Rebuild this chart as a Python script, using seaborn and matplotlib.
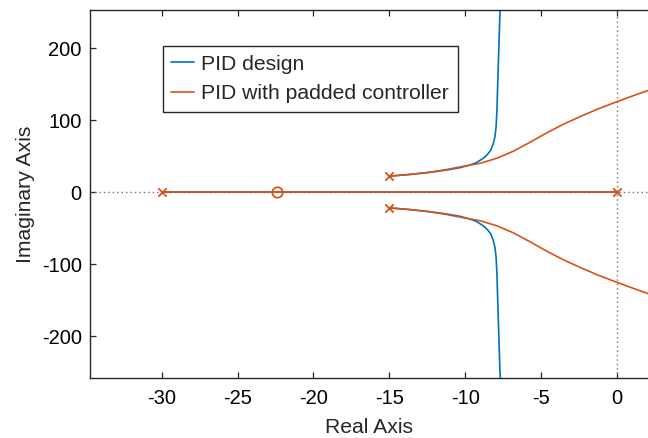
import numpy as np
import pandas as pd
import matplotlib
matplotlib.use("Agg")
import matplotlib.pyplot as plt
import seaborn as sns
from matplotlib.lines import Line2D

# Root-locus branches (real part, imaginary part)
pid_upper_re = [-15.0, -13.6, -12.5, -11.4, -10.4, -9.7, -9.25, -8.8, -8.55, -8.32, -8.15, -8.04, -7.97, -7.91, -7.86, -7.79, -7.73, -7.68]
pid_upper_im = [22.0, 24.5, 27.0, 30.0, 33.5, 37.5, 41.0, 47.0, 52.0, 58.0, 67.5, 77.0, 90.0, 114.0, 151.0, 197.0, 239.0, 262.0]
pid_lower_re = [-15.0, -13.6, -12.5, -11.4, -10.4, -9.7, -9.25, -8.8, -8.55, -8.32, -8.15, -8.04, -7.97, -7.91, -7.86, -7.79, -7.73, -7.68]
pid_lower_im = [-22.0, -24.5, -27.0, -30.0, -33.5, -37.5, -41.0, -47.0, -52.0, -58.0, -67.5, -77.0, -90.0, -114.0, -151.0, -197.0, -239.0, -262.0]

pad_upper_re = [-15.0, -13.6, -12.5, -11.4, -10.3, -9.0, -7.9, -6.8, -5.7, -4.6, -3.5, -2.4, -1.3, 0.0, 0.9, 2.1]
pad_upper_im = [22.0, 24.5, 27.0, 30.5, 35.0, 40.0, 47.0, 57.0, 69.5, 82.5, 94.5, 105.0, 115.0, 125.5, 132.5, 141.5]
pad_lower_re = [-15.0, -13.6, -12.5, -11.4, -10.3, -9.0, -7.9, -6.8, -5.7, -4.6, -3.5, -2.4, -1.3, 0.0, 0.9, 2.1]
pad_lower_im = [-22.0, -24.5, -27.0, -30.5, -35.0, -40.0, -47.0, -57.0, -69.5, -82.5, -94.5, -105.0, -115.0, -125.5, -132.5, -141.5]

real_axis_re = [-30.0, 0.0]
real_axis_im = [0.0, 0.0]

pole_re = [-30.0, 0.0, -15.0, -15.0]
pole_im = [0.0, 0.0, 22.0, -22.0]
zero_re = [-22.4]
zero_im = [0.0]

series_names = ["PID design", "PID with padded controller"]
colors = ["#0072BD", "#D95319"]

x_ticks = [-30, -25, -20, -15, -10, -5, 0]
y_ticks = [-200, -100, 0, 100, 200]


def branches(name, parts):
    frames = []
    for i, (re, im) in enumerate(parts):
        frames.append(pd.DataFrame({"re": re, "im": im, "branch": f"{name}-{i}", "series": name}))
    return pd.concat(frames, ignore_index=True)


df_pid = branches(series_names[0], [(pid_upper_re, pid_upper_im),
                                    (pid_lower_re, pid_lower_im),
                                    (real_axis_re, real_axis_im)])
df_pad = branches(series_names[1], [(pad_upper_re, pad_upper_im),
                                    (pad_lower_re, pad_lower_im),
                                    (real_axis_re, real_axis_im)])

sns.set_theme(style="white")
plt.rcParams["font.family"] = ["Liberation Sans", "DejaVu Sans"]

fig = plt.figure(figsize=(6.48, 4.38), dpi=100)
ax = fig.add_axes([90 / 648, 60 / 438, 558 / 648, 368 / 438])

# dotted reference lines through the origin
ax.axhline(0, color="0.45", ls=(0, (1, 2.2)), lw=1.0, zorder=1)
ax.axvline(0, color="0.45", ls=(0, (1, 2.2)), lw=1.0, zorder=1)

sns.lineplot(data=df_pid, x="re", y="im", units="branch", estimator=None, sort=False,
             color=colors[0], lw=1.2, ax=ax, legend=False, zorder=2)
sns.lineplot(data=df_pad, x="re", y="im", units="branch", estimator=None, sort=False,
             color=colors[1], lw=1.2, ax=ax, legend=False, zorder=3)

sns.scatterplot(x=pole_re, y=pole_im, marker="x", s=36, color=colors[1], linewidth=1.3, ax=ax, zorder=4)
ax.plot(zero_re, zero_im, "o", ms=7.5, mfc="none", mec=colors[1], mew=1.3, zorder=4)

ax.set_xlim(-34.72, 2.04)
ax.set_ylim(-258.3, 252.8)
ax.set_xticks(x_ticks)
ax.set_yticks(y_ticks)
ax.set_xticklabels([str(t) for t in x_ticks])
ax.set_yticklabels([str(t) for t in y_ticks])

for side in ["left", "bottom", "top"]:
    ax.spines[side].set_color("#262626")
    ax.spines[side].set_linewidth(1.0)
ax.spines["right"].set_visible(False)
ax.tick_params(direction="in", length=4.5, width=0.9, color="#262626",
               labelsize=14.5, labelcolor="black", top=True, bottom=True, left=True)
ax.tick_params(axis="x", pad=8)
ax.tick_params(axis="y", pad=6)

ax.set_xlabel("Real Axis", fontsize=15.2, labelpad=7)
ax.set_ylabel("Imaginary Axis", fontsize=15.2, labelpad=5)

handles = [Line2D([], [], color=c, lw=1.2) for c in colors]
leg = ax.legend(handles, series_names, loc="upper left", bbox_to_anchor=(0.130, 0.903),
                borderaxespad=0, fontsize=15.2, frameon=True, fancybox=False, framealpha=1,
                edgecolor="#262626", handlelength=1.05, handletextpad=0.35, borderpad=0.42,
                labelspacing=0.5)
leg.get_frame().set_linewidth(1.0)

fig.savefig("out.png", dpi=100)
